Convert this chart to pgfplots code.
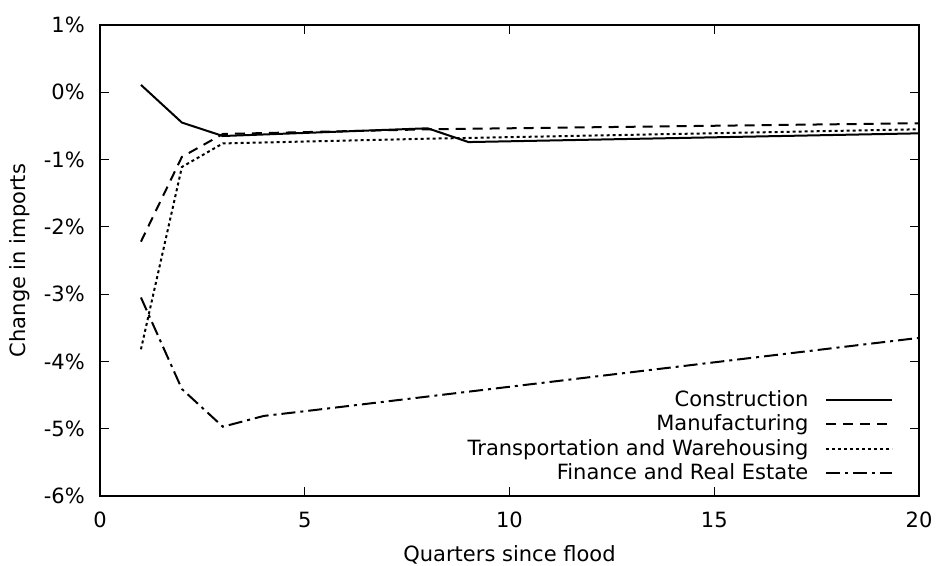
\documentclass[border=0pt]{standalone}
\usepackage{fontspec}
\setmainfont{DejaVu Sans}
\usepackage{pgfplots}
\pgfplotsset{compat=1.18}
\begin{document}
\fontsize{21}{25}\selectfont
\begin{tikzpicture}
\useasboundingbox (-100pt,-69pt) rectangle (837pt,496pt);
\begin{axis}[
  at={(0pt,0pt)}, anchor=south west,
  width=819pt, height=471pt, scale only axis,
  xmin=0, xmax=20, ymin=-6, ymax=1,
  xtick={0,5,10,15,20}, ytick={-6,-5,-4,-3,-2,-1,0,1},
  /pgf/number format/assume math mode=true,
  yticklabel={\pgfmathprintnumber{\tick}\%},
  tick align=inside, major tick length=9pt,
  tick style={line width=1pt, black},
  axis line style={line width=1.6pt},
  every tick label/.append style={font=\fontsize{21}{25}\selectfont},
  yticklabel style={xshift=-8pt},
  xticklabel style={yshift=-9pt},
  label style={font=\fontsize{21}{25}\selectfont},
  xlabel={Quarters since flood},
  ylabel={Change in imports},
  xlabel style={yshift=-3pt},
  ylabel style={yshift=0pt},
  legend plot pos=right,
  legend cell align=right,
  legend style={draw=none, fill=none, at={(0.969,0.023)}, anchor=south east,
    font=\fontsize{21}{25}\selectfont, row sep=1.5pt, inner sep=0pt},
  legend image code/.code={\draw[#1] (0pt,0pt) -- (66pt,0pt);},
]
\addplot[black, line width=2pt] coordinates {(1,0.11) (2,-0.45) (3,-0.65) (8,-0.535) (9,-0.74) (20,-0.61)};
\addlegendentry{Construction\rule{15pt}{0pt}}
\addplot[black, line width=2pt, dash pattern=on 10pt off 7pt] coordinates {(1,-2.22) (2,-0.96) (3,-0.62) (8,-0.55) (20,-0.46)};
\addlegendentry{Manufacturing\rule{15pt}{0pt}}
\addplot[black, line width=2pt, dash pattern=on 3pt off 3pt] coordinates {(1,-3.82) (2,-1.11) (3,-0.76) (8,-0.69) (20,-0.55)};
\addlegendentry{Transportation and Warehousing\rule{15pt}{0pt}}
\addplot[black, line width=2pt, dash pattern=on 14pt off 5pt on 3pt off 5pt] coordinates {(1,-3.05) (2,-4.41) (3,-4.97) (4,-4.81) (5,-4.74) (20,-3.65)};
\addlegendentry{Finance and Real Estate\rule{15pt}{0pt}}
\end{axis}
\end{tikzpicture}
\end{document}
